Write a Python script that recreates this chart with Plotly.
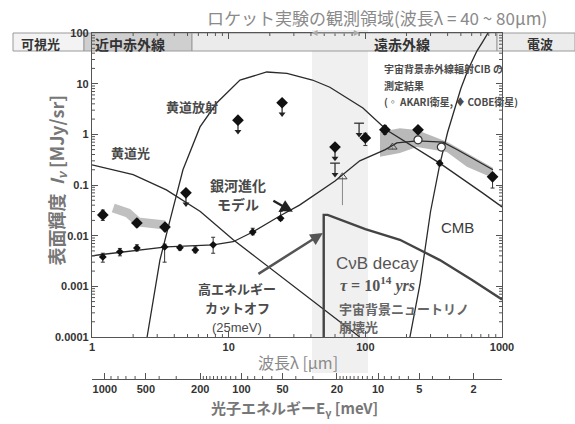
import plotly.graph_objects as go
import math

# ---------------- data ----------------
# Zodiacal light (黄道光)
zl_lam = [1, 2, 3.5, 6.2, 10.8, 20, 46.5, 91]
zl_I = [0.25, 0.16, 0.08, 0.03, 0.0083, 0.0023, 0.0004, 0.0001]
# Zodiacal emission (黄道放射)
ze_lam = [2.53, 3.14, 3.72, 4.63, 6.17, 8.2, 12.1, 19, 26.7, 41, 55, 96, 144, 350, 720, 1000]
ze_I = [1e-4, 0.0033, 0.02, 0.2, 1.4, 4.2, 11.8, 17, 16, 11.8, 8.5, 3.3, 1.2, 0.27, 0.07, 0.037]
# Galaxy evolution model (銀河進化モデル)
gal_lam = [1, 1.14, 3.5, 7.7, 10.8, 15, 24, 33, 60, 91, 140, 170, 240, 370, 475, 858]
gal_I = [0.004, 0.0042, 0.006, 0.0066, 0.0076, 0.0118, 0.025, 0.04, 0.12, 0.3, 0.5, 0.68, 0.74, 0.7, 0.49, 0.2]
# CMB
cmb_lam = [212, 251, 300, 350, 400, 452, 500, 560, 655, 720, 790]
cmb_I = [1e-4, 1.1e-3, 0.03, 0.25, 1.1, 3.4, 8, 18, 44, 66, 100]
# CνB decay photons
cvb_lam = [49.6, 49.6, 53, 100, 179, 351, 600, 1000]
cvb_I = [1e-4, 0.0257, 0.0257, 0.0135, 0.0083, 0.0033, 0.00135, 0.00055]

# COBE diamonds with error bars
cobe_lam = [1.2, 2.13, 3.42, 100, 139, 243, 853]
cobe_I = [0.0257, 0.0178, 0.0148, 0.85, 1.23, 1.23, 0.145]
cobe_hi = [0.032, 0.021, 0.017, 1.05, 1.5, 1.4, 0.17]
cobe_lo = [0.020, 0.015, 0.0125, 0.6, 1.0, 1.05, 0.087]
# COBE upper limits (diamond + arrow)
ul_lam = [4.87, 11.7, 24.6, 60]
ul_I = [0.07, 1.9, 4.2, 0.56]
# bare upper limits (bar + arrow)
bl_lam = [60, 90]
bl_I = [0.27, 1.66]
# small near-IR points
nir_lam = [1.2, 1.6, 2.13, 3.4, 4.4, 5.7, 7.7, 15, 24, 350]
nir_I = [0.0038, 0.0048, 0.0057, 0.006, 0.0058, 0.0052, 0.0066, 0.0118, 0.022, 0.27]
nir_hi = [0.0045, 0.0056, 0.0066, 0.0068, 0.0065, 0.006, 0.0093, 0.014, 0.03, 0.3]
nir_lo = [0.003, 0.004, 0.005, 0.003, 0.0052, 0.0046, 0.0045, 0.0104, 0.02, 0.24]
# AKARI open triangles and circles
ak_lam = [68, 158]
ak_I = [0.145, 0.56]
ak_lo = [0.04, 0.5]
circ_lam = [243, 360]
circ_I = [0.78, 0.56]
# gray uncertainty bands
nirb_lam = [1.43, 1.83, 2.17, 2.75, 3.42]
nirb_I = [0.035, 0.028, 0.0186, 0.0178, 0.0163]
firb_lam = [128, 179, 238, 395, 553, 858, 858, 553, 395, 238, 179, 128]
firb_I = [1.11, 1.32, 1.22, 0.71, 0.43, 0.22, 0.138, 0.23, 0.45, 0.56, 0.43, 0.36]

x_ticks = [1, 10, 100, 1000]
x_minor = [m * d for d in (1, 10, 100) for m in range(2, 10)]
y_ticks = [0.0001, 0.001, 0.01, 0.1, 1, 10, 100]
y_ticktext = ["0.0001", "0.001", "0.01", "0.1", "1", "10", "100"]
y_minor = [m * d for d in (1e-4, 1e-3, 1e-2, 1e-1, 1, 10) for m in range(2, 10)]
e_ticks = [1000, 500, 200, 100, 50, 20, 10, 5, 2]
e_minor = [900, 800, 700, 600, 400, 300] + list(range(110, 200, 10)) + \
          [90, 80, 70, 60, 40, 30] + list(range(11, 20)) + [9, 8, 7, 6, 4, 3]
HC = 1239.84  # E[meV] = HC / λ[μm]

# ---------------- geometry helpers (pixels -> paper) ----------------
L, R, T, B = 92, 73, 33, 45
W, H = 575, 424
PW, PH = W - L - R, H - T - B
def X(px): return (px - L) / PW
def Y(py): return (H - B - py) / PH
ydom0 = Y(337)
lg = math.log10

INK = "#2a2a2a"
fig = go.Figure()

# bands
fig.add_trace(go.Scatter(x=firb_lam, y=firb_I, fill="toself", fillcolor="#b9b9b9",
                         line=dict(width=0), mode="lines", hoverinfo="skip"))
fig.add_trace(go.Scatter(x=nirb_lam, y=nirb_I, mode="lines",
                         line=dict(color="#c0c0c0", width=9), hoverinfo="skip"))

# curves
for lam, I, w, c in [(zl_lam, zl_I, 1.3, INK), (ze_lam, ze_I, 1.3, INK),
                     (gal_lam, gal_I, 1.3, INK), (cmb_lam, cmb_I, 1.3, INK),
                     (cvb_lam, cvb_I, 2.4, "#444")]:
    fig.add_trace(go.Scatter(x=lam, y=I, mode="lines", line=dict(color=c, width=w),
                             hoverinfo="skip"))

# COBE with error bars
fig.add_trace(go.Scatter(
    x=cobe_lam, y=cobe_I, mode="markers",
    marker=dict(symbol="diamond", size=9, color="#111"),
    error_y=dict(type="data", symmetric=False,
                 array=[h - v for h, v in zip(cobe_hi, cobe_I)],
                 arrayminus=[v - l for l, v in zip(cobe_lo, cobe_I)],
                 color="#333", thickness=1, width=2)))

# small near-IR points
fig.add_trace(go.Scatter(
    x=nir_lam, y=nir_I, mode="markers",
    marker=dict(symbol="diamond", size=6, color="#111"),
    error_y=dict(type="data", symmetric=False,
                 array=[h - v for h, v in zip(nir_hi, nir_I)],
                 arrayminus=[v - l for l, v in zip(nir_lo, nir_I)],
                 color="#333", thickness=1, width=2)))

# upper limits
def ul_arrows(lams, Is, cap):
    xs, ys = [], []
    for l, v in zip(lams, Is):
        xs += [l, l, None]
        ys += [v, v * 0.6, None]
    fig.add_trace(go.Scatter(x=xs, y=ys, mode="lines", line=dict(color="#222", width=1.2),
                             hoverinfo="skip"))
    fig.add_trace(go.Scatter(x=lams, y=[v * 0.6 for v in Is], mode="markers",
                             marker=dict(symbol="triangle-down", size=6, color="#222"),
                             hoverinfo="skip"))
    if cap:
        fig.add_trace(go.Scatter(x=lams, y=Is, mode="markers",
                                 marker=dict(symbol="line-ew", size=7,
                                             line=dict(color="#222", width=1.2)),
                                 hoverinfo="skip"))

ul_arrows(ul_lam, ul_I, False)
ul_arrows(bl_lam, bl_I, True)
fig.add_trace(go.Scatter(x=ul_lam, y=ul_I, mode="markers",
                         marker=dict(symbol="diamond", size=9, color="#111")))

# AKARI
fig.add_trace(go.Scatter(
    x=ak_lam, y=ak_I, mode="markers",
    marker=dict(symbol="triangle-up-open", size=8, color="#444"),
    error_y=dict(type="data", symmetric=False, array=[0, 0],
                 arrayminus=[v - l for l, v in zip(ak_lo, ak_I)],
                 color="#888", thickness=1, width=0)))
fig.add_trace(go.Scatter(x=circ_lam, y=circ_I, mode="markers",
                         marker=dict(symbol="circle", size=8, color="white",
                                     line=dict(color="#333", width=1.2))))

# dummy trace for energy axis
fig.add_trace(go.Scatter(x=[10], y=[1], xaxis="x2", yaxis="y", mode="markers",
                         marker=dict(opacity=0), hoverinfo="skip"))

axcol = "#555"
shapes = []
# vertical gray band of rocket observation
shapes.append(dict(type="rect", xref="paper", yref="paper", x0=X(312), x1=X(368),
                   y0=Y(373), y1=Y(30), fillcolor="rgba(0,0,0,0.06)",
                   line=dict(width=0), layer="below"))
# top wavelength band
by0, by1 = Y(51), Y(33)
for x0, x1, col in [(13, 84, "#f3f3f3"), (84, 192, "#cfcfcf"), (192, 497, "#ebebeb"),
                    (497, 575, "#ececec")]:
    shapes.append(dict(type="rect", xref="paper", yref="paper", x0=X(x0), x1=X(x1),
                       y0=by0, y1=by1, fillcolor=col,
                       line=dict(color="#9a9a9a", width=1), layer="below"))
# minor ticks (inside) drawn from the tick value lists (data values on log axes)
tl = 3
for v in x_minor:
    for ya, yb in [(ydom0, ydom0 + tl / PH), (1 - tl / PH, 1)]:
        shapes.append(dict(type="line", xref="x", yref="paper", x0=v, x1=v,
                           y0=ya, y1=yb, line=dict(color=axcol, width=1), layer="above"))
for v in y_minor:
    for xa, xb in [(0, tl / PW), (1 - tl / PW, 1)]:
        shapes.append(dict(type="line", xref="paper", yref="y", x0=xa, x1=xb,
                           y0=v, y1=v, line=dict(color=axcol, width=1), layer="above"))
for v in e_minor:
    shapes.append(dict(type="line", xref="x2", yref="paper", x0=v, x1=v,
                       y0=0, y1=tl / PH, line=dict(color=axcol, width=1), layer="above"))
fig.update_layout(shapes=shapes)

ann = []
def txt(s, px, py, size=13, color="#4a4a4a", xanchor="center", family=None):
    d = dict(text=s, x=X(px), y=Y(py), xref="paper", yref="paper", showarrow=False,
             xanchor=xanchor, yanchor="middle", font=dict(size=size, color=color))
    if family:
        d["font"]["family"] = family
    ann.append(d)

JP = "Noto Sans CJK JP"
txt("ロケット実験の観測領域(波長λ = 40 ~ 80μm)", 377, 17, 17, "#8a8a8a", family=JP)
txt("<b>可視光</b>", 40, 43, 13, "#333", family=JP)
txt("<b>近中赤外線</b>", 130, 44, 14, "#333", family=JP)
txt("<b>遠赤外線</b>", 402, 44, 14, "#333", family=JP)
txt("<b>電波</b>", 540, 44, 13, "#333", family=JP)
txt("<b>黄道光</b>", 130, 152, 13, family=JP)
txt("<b>黄道放射</b>", 192, 106, 13, family=JP)
txt("<b>銀河進化</b>", 238, 185, 14, family=JP)
txt("<b>モデル</b>", 238, 204, 14, family=JP)
txt("<b>宇宙背景赤外線輻射CIB の</b>", 382, 69, 10, "#4a4a4a", xanchor="left", family=JP)
txt("<b>測定結果</b>", 382, 85, 10, "#4a4a4a", xanchor="left", family=JP)
txt("<b>(◦ AKARI衛星, ♦ COBE衛星)</b>", 382, 101, 10, "#4a4a4a", xanchor="left", family=JP)
txt("CMB", 457, 227, 15, "#3a3a3a", family="Liberation Sans")
txt("CνB decay", 377, 263, 17, "#555", family="Liberation Sans")
txt("<b><i>τ</i> = 10<sup>14</sup> <i>yrs</i></b>", 377, 284, 16, "#555",
    family="Liberation Serif")
txt("<b>宇宙背景ニュートリノ</b>", 337, 308, 13, "#666", xanchor="left", family=JP)
txt("<b>崩壊光</b>", 337, 326, 13, "#666", xanchor="left", family=JP)
txt("<b>高エネルギー</b>", 237, 288, 13, family=JP)
txt("<b>カットオフ</b>", 237, 307, 13, family=JP)
txt("(25meV)", 237, 327, 13, "#4a4a4a", family="Liberation Sans")
txt("波長λ [μm]", 298, 362, 16, "#8a8a8a", family=JP)
txt("<b>光子エネルギーE<sub>γ</sub> [meV]</b>", 294, 409, 15, "#777", family=JP)
ann.append(dict(text="<b>表面輝度  <i>I<sub>ν</sub></i> [MJy/sr]</b>", x=X(40), y=Y(180),
                xref="paper", yref="paper", showarrow=False, textangle=-90,
                font=dict(size=18, color="#777", family=JP)))

# arrows
def arrow(l0, i0, l1, i1, color, width):
    ann.append(dict(x=lg(l1), y=lg(i1), ax=lg(l0), ay=lg(i0), xref="x", yref="y",
                    axref="x", ayref="y", showarrow=True, arrowhead=2, arrowsize=1,
                    arrowwidth=width, arrowcolor=color, text=""))
arrow(20.7, 0.0508, 29.5, 0.0295, "#222", 2.5)
arrow(16.1, 0.00169, 48.9, 0.0113, "#555", 2.5)
# rocket band double arrow
ann.append(dict(x=lg(91), y=1.0, ax=lg(39.4), ay=0, xref="x", yref="paper", axref="x",
                ayref="pixel", showarrow=True, arrowhead=2, arrowside="end+start",
                arrowwidth=1.2, arrowcolor="#aaa", text=""))
fig.update_layout(annotations=ann)

tickfont = dict(size=11, color="#333", family="Liberation Sans")
fig.update_layout(
    width=W, height=H, margin=dict(l=L, r=R, t=T, b=B),
    paper_bgcolor="white", plot_bgcolor="rgba(0,0,0,0)", showlegend=False,
    font=dict(family="Liberation Sans, Noto Sans CJK JP"),
    xaxis=dict(type="log", range=[0, 3], domain=[0, 1], anchor="y",
               tickvals=x_ticks, ticktext=[f"<b>{v}</b>" for v in x_ticks],
               ticks="inside", ticklen=6, tickcolor=axcol, showline=True, linecolor=axcol,
               linewidth=1.3, mirror="ticks", showgrid=False, zeroline=False,
               tickfont=tickfont),
    yaxis=dict(type="log", range=[-4, 2], domain=[ydom0, 1],
               tickvals=y_ticks, ticktext=[f"<b>{t}</b>" for t in y_ticktext],
               ticks="inside", ticklen=6, tickcolor=axcol, showline=True, linecolor=axcol,
               linewidth=1.3, mirror="ticks", showgrid=False, zeroline=False,
               tickfont=tickfont),
    xaxis2=dict(type="log", range=[lg(HC / 1), lg(HC / 1000)], overlaying="x",
                anchor="free", position=0, side="bottom",
                tickvals=e_ticks, ticktext=[f"<b>{v}</b>" for v in e_ticks],
                ticks="inside", ticklen=6, tickcolor=axcol, showline=True, linecolor=axcol,
                linewidth=1.3, showgrid=False, zeroline=False, tickfont=tickfont),
)

fig.write_html("out.html", config={"displayModeBar": False},
               post_script="document.body.style.margin='0px';document.body.style.padding='0px';")
